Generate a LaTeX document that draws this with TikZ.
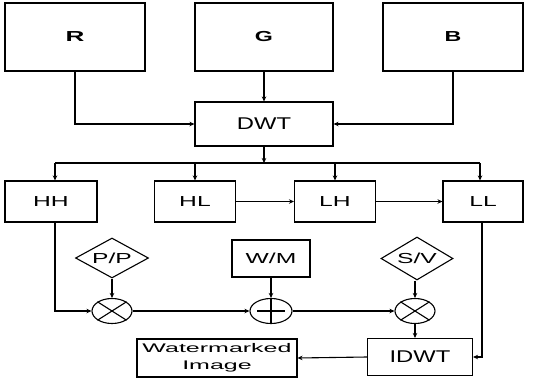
\documentclass[tikz,border=0pt]{standalone}
\usepackage{fontspec}
\setmainfont{Liberation Sans}
\usetikzlibrary{shapes.geometric,arrows.meta}
\newcommand{\sx}[2]{\scalebox{#1}[1]{#2}}
\tikzset{
  box/.style={draw, line width=1.1pt, rectangle, inner sep=0pt},
  dia/.style={draw, line width=1.1pt, diamond, aspect=1.8, inner sep=0pt},
  op/.style={draw, line width=1.1pt, ellipse, inner sep=0pt, minimum width=40pt, minimum height=25pt},
  conn/.style={line width=1.1pt, -{Stealth[length=5pt,width=4.5pt]}},
  lbl/.style={font=\fontsize{14.5pt}{16pt}\selectfont},
  big/.style={font=\fontsize{17pt}{19pt}\selectfont},
}
\begin{document}
\begin{tikzpicture}[x=1pt,y=-1pt]
\useasboundingbox (0,0) rectangle (536,378);
% top row
\node[box, minimum width=140pt, minimum height=68pt, lbl] (R) at (75,37) {\sx{1.8}{\bfseries R}};
\node[box, minimum width=138pt, minimum height=68pt, lbl] (G) at (264,37) {\sx{1.6}{\bfseries G}};
\node[box, minimum width=140pt, minimum height=68pt, lbl] (B) at (453,37) {\sx{1.6}{\bfseries B}};
\node[box, minimum width=138pt, minimum height=44pt, big] (DWT) at (264,124) {\sx{1.4}{DWT}};
% sub-bands
\node[box, minimum width=92pt, minimum height=41pt, lbl] (HH) at (51,201.5) {\sx{1.7}{HH}};
\node[box, minimum width=81pt, minimum height=41pt, lbl] (HL) at (195,201.5) {\sx{1.7}{HL}};
\node[box, minimum width=81pt, minimum height=41pt, lbl] (LH) at (335,201.5) {\sx{1.7}{LH}};
\node[box, minimum width=80pt, minimum height=41pt, lbl] (LL) at (483,201.5) {\sx{1.7}{LL}};
% middle
\node[dia, minimum width=73pt, minimum height=40pt, lbl] (PP) at (112,258) {\sx{1.7}{P/P}};
\node[box, minimum width=78pt, minimum height=37pt, lbl] (WM) at (271,258.5) {\sx{1.7}{W/M}};
\node[dia, minimum width=72pt, minimum height=43pt, lbl] (SV) at (417,258.5) {\sx{1.7}{S/V}};
\node[op] (X1) at (112,311) {};
\node[op, minimum width=42pt] (PL) at (271,311) {};
\node[op] (X2) at (415,311) {};
\draw[line width=1.1pt] (X1.north east) -- (X1.south west) (X1.north west) -- (X1.south east);
\draw[line width=1.1pt] (X2.north east) -- (X2.south west) (X2.north west) -- (X2.south east);
\draw[line width=1.1pt] (PL.north) -- (PL.south) ([xshift=8pt]PL.west) -- ([xshift=-8pt]PL.east);
% bottom
\node[box, minimum width=105pt, minimum height=37pt, big] (IDWT) at (420,357) {\sx{1.4}{IDWT}};
\node[box, minimum width=160pt, minimum height=38pt, font=\fontsize{12.5pt}{17pt}\selectfont, align=center] (WI) at (217,358) {\sx{2.0}{Watermarked}\\\sx{2.0}{Image}};
% connectors
\draw[conn] (R.south) |- (DWT.west);
\draw[conn] (B.south) |- (DWT.east);
\draw[conn] (G.south) -- (DWT.north);
\coordinate (bus) at (264,163);
\draw[conn] (DWT.south) -- (bus);
\draw[line width=1.1pt] (55,163) -- (480,163);
\draw[conn] (55,163) -- (HH.north -| 55,0);
\draw[conn] (bus -| HL.north) -- (HL.north);
\draw[conn] (bus -| LH.north) -- (LH.north);
\draw[conn] (480,163) -- (LL.north -| 480,0);
\draw[conn] (HL.east) -- (LH.west);
\draw[conn] (LH.east) -- (LL.west);
\draw[conn] (HH.south -| 55,0) |- (X1.west);
\draw[conn] (PP.south) -- (X1.north);
\draw[conn] (X1.east) -- (PL.west);
\draw[conn] (WM.south) -- (PL.north);
\draw[conn] (PL.east) -- (X2.west);
\draw[conn] (SV.south -| X2.north) -- (X2.north);
\draw[conn] (X2.south) -- (IDWT.north -| X2.south);
\draw[conn] (LL.south -| 482,0) |- (IDWT.east);
\draw[conn] (IDWT.west) -- (WI.east);
\end{tikzpicture}
\end{document}
